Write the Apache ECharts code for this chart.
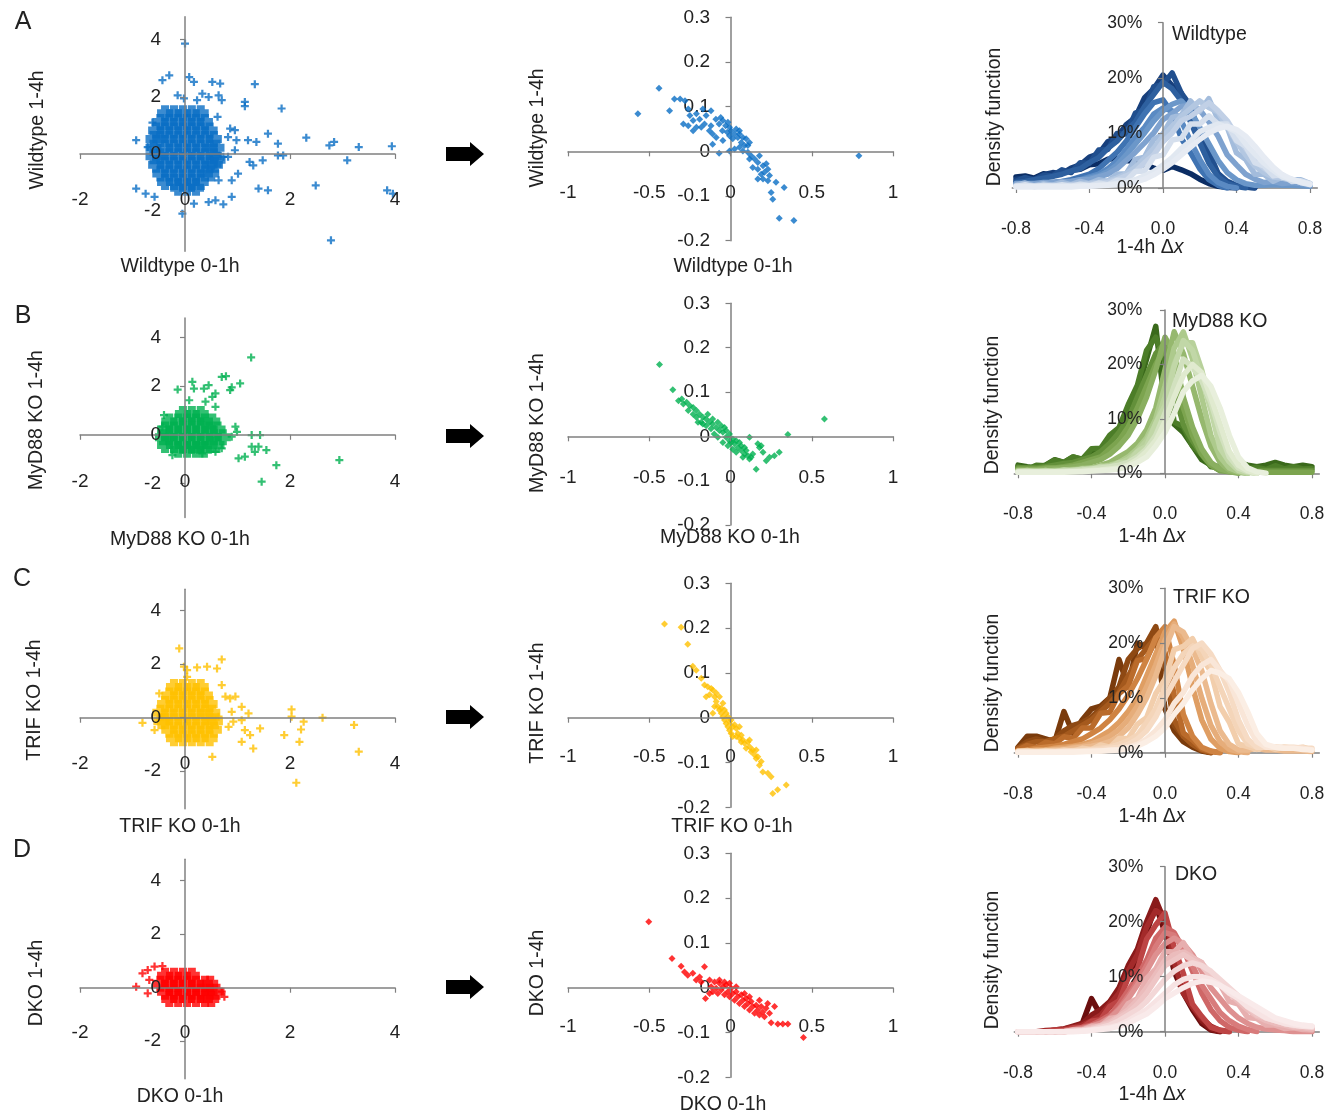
<!DOCTYPE html>
<html><head><meta charset="utf-8">
<script src="https://cdn.jsdelivr.net/npm/echarts@6/dist/echarts.min.js"></script>
<style>html,body{margin:0;padding:0;background:#fff}#c{width:1343px;height:1117px}</style>
</head><body><div id="c"></div>
<script>
const N = null;
// ---------- tick values ----------
const leftXTicks = [-2, 0, 2, 4];
const leftYTicks = [-2, 0, 2, 4];
const densXTicks = [-0.8, -0.4, 0, 0.4, 0.8];
const rowNames = ['Wildtype', 'MyD88 KO', 'TRIF KO', 'DKO'];
const panelLetters = ['A', 'B', 'C', 'D'];

// ---------- left panels: 0-1h vs 1-4h (core cloud + outliers) ----------
const wtCore = [
[-0.38,1.42],[-0.21,1.42],[-0.04,1.42],[0.13,1.42],[0.3,1.42],
[-0.47,1.12],[-0.3,1.12],[-0.13,1.12],[0.04,1.12],[0.21,1.12],[0.38,1.12],
[-0.55,0.82],[-0.38,0.82],[-0.21,0.82],[-0.04,0.82],[0.13,0.82],[0.3,0.82],[0.47,0.82],
[-0.6,0.52],[-0.47,0.52],[-0.3,0.52],[-0.13,0.52],[0.04,0.52],[0.21,0.52],[0.38,0.52],[0.55,0.52],
[-0.6,0.22],[-0.38,0.22],[-0.21,0.22],[-0.04,0.22],[0.13,0.22],[0.3,0.22],[0.47,0.22],[0.6,0.22],
[-0.6,-0.08],[-0.47,-0.08],[-0.3,-0.08],[-0.13,-0.08],[0.04,-0.08],[0.21,-0.08],[0.38,-0.08],[0.55,-0.08],[0.62,-0.2],
[-0.55,-0.38],[-0.38,-0.38],[-0.21,-0.38],[-0.04,-0.38],[0.13,-0.38],[0.3,-0.38],[0.47,-0.38],[0.57,-0.38],
[-0.47,-0.68],[-0.3,-0.68],[-0.13,-0.68],[0.04,-0.68],[0.21,-0.68],[0.38,-0.68],[0.5,-0.68],
[-0.38,-0.98],[-0.21,-0.98],[-0.04,-0.98],[0.13,-0.98],[0.3,-0.98],
[-0.13,-1.18],[0.04,-1.18],[0.21,-1.18]
];
const wtOut = [
[0,3.86],[-0.3,2.75],[-0.43,2.58],[0.08,2.69],[0.17,2.52],[0.52,2.52],[0.67,2.46],[1.33,2.44],
[0.33,2.11],[0.64,2.05],[0.7,1.88],[1.14,1.82],[1.14,1.67],[1.84,1.59],[-0.14,2.05],[-0.02,1.94],
[0.23,1.88],[0.45,1.99],[-0.93,0.48],[-0.71,0.24],[-0.75,-1.39],[-0.93,-1.21],[-0.58,-1.5],
[-0.05,-2.09],[0.17,-1.74],[0.45,-1.68],[0.58,-1.62],[0.73,-1.76],[0.89,-1.5],[0.86,0.89],
[0.95,0.83],[0.82,0.59],[0.98,0.48],[1.2,0.48],[1.36,0.42],[1.58,0.71],[1.77,0.36],[1.77,-0.05],
[1.87,-0.05],[1.23,-0.28],[1.3,-0.4],[1.48,-0.22],[1.4,-1.21],[1.58,-1.27],[2.31,0.57],[2.49,-1.1],
[2.75,0.3],[2.84,0.42],[3.09,-0.22],[3.31,0.24],[3.94,0.27],[3.85,-1.27],[3.96,-1.39],[2.78,-3.02],
[0.89,-0.92],[1.01,-0.69],[0.82,-0.1],[0.95,0.13],[0.73,-0.1],[0.64,-0.92],[-0.62,1.1],[0.62,1.3]
];
const myCore = [
[-0.04,0.85],[0.13,0.85],[0.3,0.85],
[-0.3,0.55],[-0.13,0.55],[0.04,0.55],[0.21,0.55],[0.38,0.55],[0.52,0.55],
[-0.38,0.22],[-0.21,0.22],[-0.04,0.22],[0.13,0.22],[0.3,0.22],[0.47,0.22],[0.62,0.22],
[-0.42,-0.1],[-0.3,-0.1],[-0.13,-0.1],[0.04,-0.1],[0.21,-0.1],[0.38,-0.1],[0.55,-0.1],[0.72,-0.1],
[-0.38,-0.42],[-0.21,-0.42],[-0.04,-0.42],[0.13,-0.42],[0.3,-0.42],[0.47,-0.42],[0.6,-0.42],
[-0.13,-0.62],[0.04,-0.62],[0.21,-0.62],[0.36,-0.62]
];
const myOut = [
[1.26,3.18],[0.7,2.38],[0.78,2.41],[1.05,2.11],[0.89,1.95],[0.86,1.84],[0.14,2.18],[0.17,1.9],
[0.36,1.9],[0.45,2.04],[0.52,1.56],[0.58,1.7],[-0.14,1.86],[0.08,1.42],[0.39,1.36],[0.58,1.15],
[-0.4,0.81],[-0.43,0.33],[0.96,0.33],[0.99,0.12],[0.89,-0.08],[1.27,-0.01],[1.43,-0.01],[1.27,-0.49],
[1.4,-0.49],[1.33,-0.7],[1.55,-0.63],[1.02,-0.97],[1.14,-0.9],[1.74,-1.25],[1.46,-1.93],[2.94,-1.04],
[0.7,-0.56],[0.58,-0.7],[-0.24,-0.84],[0.33,-0.77]
];
const trCore = [
[-0.21,1.15],[-0.04,1.15],[0.13,1.15],[0.3,1.15],
[-0.3,0.83],[-0.13,0.83],[0.04,0.83],[0.21,0.83],[0.38,0.83],
[-0.38,0.51],[-0.21,0.51],[-0.04,0.51],[0.13,0.51],[0.3,0.51],[0.47,0.51],
[-0.47,0.19],[-0.3,0.19],[-0.13,0.19],[0.04,0.19],[0.21,0.19],[0.38,0.19],[0.52,0.19],
[-0.45,-0.13],[-0.38,-0.13],[-0.21,-0.13],[-0.04,-0.13],[0.13,-0.13],[0.3,-0.13],[0.47,-0.13],[0.57,-0.13],
[-0.3,-0.45],[-0.13,-0.45],[0.04,-0.45],[0.21,-0.45],[0.38,-0.45],[0.55,-0.45],
[-0.21,-0.77],[-0.04,-0.77],[0.13,-0.77],[0.3,-0.77],[0.47,-0.77]
];
const trOut = [
[-0.11,2.59],[-0.02,1.91],[0.04,1.78],[0.23,1.88],[0.42,1.91],[0.61,1.84],[0.7,2.18],[0.04,1.53],
[-0.49,0.91],[0.7,1.22],[0.77,0.79],[0.86,0.72],[0.96,0.79],[1.08,0.41],[0.89,0.22],[1.21,0.16],
[1.08,-0.09],[0.92,-0.15],[1.14,-0.46],[1.24,-0.65],[1.08,-0.9],[1.3,-1.15],[1.43,-0.4],[0.52,-1.46],
[-0.81,-0.19],[-0.58,-0.46],[2.03,0.31],[2.03,0.04],[2.26,-0.15],[2.21,-0.44],[1.89,-0.65],[2.18,-0.9],
[2.62,0],[3.22,-0.27],[3.31,-1.27],[2.12,-2.43],[0.64,0.04],[0.83,-0.34]
];
const dkCore = [
[-0.38,0.45],[-0.21,0.45],[-0.04,0.45],[0.13,0.45],
[-0.47,0.15],[-0.3,0.15],[-0.13,0.15],[0.04,0.15],[0.21,0.15],[0.38,0.15],[0.48,0.15],
[-0.38,-0.15],[-0.21,-0.15],[-0.04,-0.15],[0.13,-0.15],[0.3,-0.15],[0.47,-0.15],[0.6,-0.15],
[-0.3,-0.42],[-0.13,-0.42],[0.04,-0.42],[0.21,-0.42],[0.38,-0.42],[0.5,-0.42]
];
const dkOut = [
[-0.93,0.04],[-0.81,0.54],[-0.71,0.66],[-0.71,-0.21],[-0.58,0.79],[-0.43,0.81],[0.7,-0.15],[0.75,-0.34],[-0.68,0.29]
];

// ---------- middle panels: selected genes ----------
const wtMid = [[-0.57,0.084],[-0.44,0.141],[-0.375,0.091],[-0.345,0.117],[-0.31,0.117],[-0.28,0.113],[-0.26,0.095],[-0.25,0.08],[-0.26,0.057],[-0.23,0.069],[-0.21,0.084],[-0.19,0.072],[-0.21,0.054],[-0.17,0.095],[-0.15,0.08],[-0.12,0.091],[-0.16,0.061],[-0.12,0.057],[-0.11,0.039],[-0.09,0.072],[-0.07,0.061],[-0.05,0.046],[-0.06,0.076],[-0.03,0.057],[-0.02,0.043],[-0.006,0.035],[0.004,0.046],[0.025,0.039],[0.014,0.028],[0.045,0.031],[0.066,0.02],[0.086,0.013],[0.107,0.013],[0.076,0.001],[0.107,-0.002],[0.127,-0.01],[0.148,-0.017],[0.168,-0.025],[0.137,-0.036],[0.168,-0.04],[0.2,-0.032],[0.22,-0.028],[0.189,-0.051],[0.23,-0.066],[0.2,-0.062],[0.28,-0.069],[0.33,-0.081],[0.25,-0.092],[0.26,-0.107],[0.3,-0.15],[0.39,-0.155],[0.79,-0.01],[-0.11,0.016],[-0.07,-0.004],[-0.006,0.001],[0.025,0.005],[0.055,0.009],[0.117,0.02],[0.096,0.028],[0.076,0.031],[-0.047,0.024],[-0.088,0.031],[-0.047,0.069],[-0.016,0.065],[-0.006,0.054],[0.035,0.05],[0.055,0.039],[0.055,0.046],[-0.29,0.061],[-0.23,0.046],[-0.18,0.054],[-0.13,0.046],[0.117,-0.017],[0.178,-0.01],[0.209,-0.047],[0.168,-0.062],[0.23,-0.04],[0.24,-0.054]];
const myMid = [[-0.437,0.162],[-0.355,0.105],[-0.3,0.084],[-0.27,0.077],[-0.25,0.069],[-0.23,0.065],[-0.21,0.058],[-0.19,0.05],[-0.17,0.043],[-0.15,0.039],[-0.13,0.032],[-0.11,0.028],[-0.088,0.02],[-0.068,0.013],[-0.047,0.009],[-0.027,-0.002],[-0.006,-0.01],[0.004,-0.014],[0.025,-0.017],[0.045,-0.025],[0.066,-0.032],[0.086,-0.04],[0.107,-0.044],[0.127,-0.047],[0.158,-0.074],[0.178,-0.025],[0.2,-0.036],[0.22,-0.055],[0.24,-0.047],[0.27,-0.044],[0.3,-0.036],[0.117,-0.002],[0.353,0.004],[0.578,0.039],[-0.21,0.043],[-0.18,0.032],[-0.15,0.024],[-0.12,0.017],[-0.1,0.005],[-0.078,-0.002],[-0.047,-0.014],[-0.016,-0.021],[0.014,-0.029],[0.035,-0.036],[0.076,-0.047],[0.117,-0.051],[0.086,-0.025],[0.055,-0.014],[0.096,-0.032],[0.137,-0.04],[0.168,-0.017],[0.189,-0.021],[-0.26,0.058],[-0.23,0.05],[-0.2,0.032],[-0.17,0.028],[-0.14,0.05],[-0.11,0.039],[-0.078,0.032],[-0.057,0.024],[-0.037,0.02],[-0.027,0.013],[-0.006,0.005],[0.014,-0.006],[0.035,-0.01],[0.066,-0.021],[-0.29,0.073],[-0.32,0.08]];
const trMid = [[-0.406,0.209],[-0.304,0.202],[-0.263,0.164],[-0.232,0.115],[-0.211,0.106],[-0.18,0.088],[-0.16,0.073],[-0.14,0.069],[-0.119,0.065],[-0.129,0.051],[-0.15,0.047],[-0.098,0.047],[-0.088,0.036],[-0.109,0.01],[-0.078,0.025],[-0.068,0.017],[-0.057,0.01],[-0.047,0.002],[-0.037,-0.005],[-0.027,-0.013],[-0.016,-0.02],[-0.006,-0.028],[0.004,-0.035],[0.014,-0.042],[0.025,-0.016],[0.035,-0.024],[0.045,-0.035],[0.055,-0.046],[0.066,-0.054],[0.086,-0.057],[0.096,-0.068],[0.117,-0.065],[0.127,-0.076],[0.148,-0.083],[0.168,-0.087],[0.178,-0.106],[0.199,-0.121],[0.23,-0.124],[0.25,-0.132],[0.26,-0.169],[0.29,-0.161],[0.343,-0.15],[-0.068,0.047],[-0.047,0.032],[-0.037,0.017],[-0.016,0.002],[-0.006,-0.009],[0.014,-0.02],[0.035,-0.042],[0.066,-0.039],[0.076,-0.05],[0.107,-0.054],[0.137,-0.072],[0.158,-0.091],[-0.088,0.055],[-0.109,0.062],[-0.098,0.025],[-0.057,0.021],[-0.027,0.01],[0.004,-0.005],[0.055,-0.02],[0.117,-0.05],[0.158,-0.072],[0.189,-0.098]];
const dkMid = [[-0.503,0.147],[-0.36,0.065],[-0.304,0.048],[-0.263,0.028],[-0.232,0.032],[-0.211,0.017],[-0.16,0.047],[-0.154,-0.024],[-0.18,0.013],[-0.129,0.017],[-0.119,0.002],[-0.098,0.013],[-0.088,-0.001],[-0.109,-0.009],[-0.068,0.01],[-0.057,-0.005],[-0.047,0.002],[-0.027,0.006],[-0.016,-0.009],[0.004,-0.001],[0.014,-0.013],[0.035,-0.009],[0.045,-0.02],[0.066,-0.016],[0.076,-0.028],[0.096,-0.024],[0.107,-0.035],[0.127,-0.031],[0.137,-0.042],[0.158,-0.039],[0.168,-0.05],[0.189,-0.042],[0.199,-0.054],[0.219,-0.046],[0.24,-0.057],[0.271,-0.042],[0.25,-0.078],[0.291,-0.081],[0.322,-0.081],[0.353,-0.081],[0.449,-0.111],[-0.078,-0.013],[-0.037,-0.016],[-0.006,-0.02],[0.025,-0.028],[0.055,-0.035],[0.086,-0.042],[0.117,-0.05],[0.148,-0.057],[0.178,-0.061],[0.209,-0.065],[-0.068,0.017],[-0.037,0.013],[-0.006,0.01],[0.035,0.002],[0.086,-0.013],[0.117,-0.02],[0.178,-0.028],[0.229,-0.035],[-0.129,-0.013],[-0.283,0.035],[-0.19,0.024]];

// ---------- right panels: density of 1-4h Δx (percent), dark -> light ----------
const densX = [-0.8,-0.75,-0.7,-0.65,-0.6,-0.55,-0.5,-0.45,-0.4,-0.35,-0.3,-0.25,-0.2,-0.15,-0.1,-0.05,0,0.05,0.1,0.15,0.2,0.25,0.3,0.35,0.4,0.45,0.5,0.55,0.6,0.65,0.7,0.75,0.8];
const wtDens = [
[2,2.2,1.8,2.6,2.2,2.8,3.2,3.4,4.2,4.4,5.2,5.4,5,4.8,4.2,3.6,3.2,3.9,3.3,2.6,1.6,0.8,0.3,0.1,0,N,N,N,N,N,N,N,N],
[1.6,1.8,1.6,2.4,2.8,2.6,3.6,4.2,5.6,6.2,8.4,9.2,11.5,12.8,16.4,18,20.5,18.6,17.2,12.5,9.4,4.8,2.6,1,0.4,0.2,0,N,N,N,N,N,N],
[1.2,1.9,1.4,2.3,2.2,3.3,2.8,4.6,4.5,6.9,7,9.9,9.8,13.6,14.2,18.4,18.8,20.9,17.2,14.9,9.4,6.6,2.6,1.2,0.5,0.2,0,N,N,N,N,N,N],
[1,1.2,1.5,1.8,2.1,2.5,3.1,3.5,4.6,5.5,7.2,8.5,10.4,12,14.8,17,19.2,18,15.8,12,8.2,4.5,2,0.8,0.3,0,N,N,N,N,N,N,N],
[0.5,0.5,0.6,0.8,1,1.2,1.5,2,2.5,3.5,5,6.5,8.5,11,13.5,15.5,16,13.6,9,6.4,3.5,1.5,0.5,0,N,N,N,N,N,N,N,N,N],
[0.5,0.5,0.5,0.6,0.8,1,1.2,1.5,2,2.5,3.5,5,7,9.2,11,13.4,14.5,14,12.2,8.5,5.2,2.5,1,0.3,0,N,N,N,N,N,N,N,N],
[0.6,0.6,0.7,0.8,0.9,1,1.2,1.4,1.8,2.2,3,4.2,6,8,10,12.2,14,15.2,15.8,14,11,8,5,2.8,1.5,0.8,0.5,0.5,0.6,0.5,0.5,0.4,0.3],
[0.8,0.8,0.8,1,1,1.2,1.2,1.5,1.5,2,2.5,3.5,5,6.5,8.2,10,12.4,13.5,14.8,15,14.2,12,9.4,6,4.2,2.5,1.6,1,1.2,0.8,1,0.8,0.5],
[0.5,0.9,0.4,0.8,0.5,1,0.6,1.2,0.8,1.5,1.2,2.5,2.6,5.2,5.6,8.8,9.8,12.8,13.2,15.8,13.9,16.2,12.4,11,6.4,5.2,2.5,2.5,1.2,2,1.5,1.5,0.8],
[0.4,0.4,0.4,0.4,0.5,0.5,0.6,0.7,0.8,1,1.3,1.8,2.6,3.8,5.4,7.2,9.4,11.2,13,14.4,15.8,14.6,13.8,11,8.4,6,4,2.8,2,1.8,1.4,1.1,0.7],
[0.3,0.3,0.3,0.3,0.4,0.4,0.5,0.5,0.6,0.8,1,1.5,2.2,3,4.6,6,8.4,10,12.2,13,14.2,15.5,14,12.2,9.5,7.2,5,3.6,2.5,2,1.5,1,0.8],
[0.3,0.6,0.2,0.5,0.3,0.6,0.3,0.7,0.4,0.9,0.6,1.4,1.3,3,3.1,5.6,6,8.7,9,11.6,11.6,13.1,11.6,11.6,8.6,7.6,4.6,4,2.2,2.4,1.2,1.3,0.8],
[0.3,0.3,0.3,0.3,0.3,0.3,0.3,0.3,0.4,0.5,0.6,0.8,1,1.5,2.2,3,4.2,5.5,7.2,8.5,10.2,11,11.6,11,10.2,8,6.2,4.5,3.2,2,1.6,1,0.6],
[0.2,0.2,0.2,0.2,0.2,0.2,0.2,0.3,0.3,0.4,0.5,0.6,0.8,1.1,1.6,2.4,3.4,4.6,6,7.4,8.8,10,10.8,11.2,10.6,9.4,7.6,5.6,3.8,2.4,1.6,1.1,0.7]
];
const myDens = [
[1.5,1.2,1,1.5,2.5,2,3,2.5,3.5,4.5,6,8,11,15,21,27,12,9,7.5,5,2.5,1.5,1.2,1.5,2,1.5,1.2,1.5,2,1.5,1.2,1.5,1.2],
[1.2,0.7,1.5,1.4,2.4,2,3,2.6,4.5,4.6,7,8.4,12.6,16.2,22.6,25,20.6,9.4,8.6,5,3.4,1.2,1.1,0.7,1.5,0.8,1.1,0.7,1.4,0.8,1.2,0.8,0.9],
[1,1,1,1.2,1.5,1.8,2,2.5,3,4,5.5,7.5,10,14,18,22,24,15,9,6,3.5,1.5,0.5,0.5,0.5,0.5,0.5,0.5,0.5,0.5,0.5,0.5,0.5],
[0.8,0.8,0.8,1,1,1.2,1.5,2,2.5,3,4.5,6,8.5,12,16,20,23,18,12,7,3.5,1.5,0.5,0.3,0.2,0.2,0.2,0.2,0.2,0.2,0.2,0.2,0.2],
[0.6,0.6,0.6,0.8,0.9,1,1.2,1.5,2,2.5,3.5,5,7,10,14,19,25,22,14,8.5,4.5,2,0.8,0.3,0,N,N,N,N,N,N,N,N],
[0.5,0.5,0.5,0.5,0.5,0.6,0.8,1,1,1.5,2,3,4,5.5,8,12,19,26,22,16,10,5,2,0.6,0.2,0,N,N,N,N,N,N,N],
[0.4,0.4,0.4,0.4,0.5,0.5,0.6,0.8,1,1.2,1.5,2,3,4.5,6.5,10,16,23,26,21,14,7,3,1,0.3,0,N,N,N,N,N,N,N],
[0.4,0.4,0.4,0.4,0.4,0.5,0.6,0.7,0.9,1.1,1.4,1.8,2.6,4,6,9,14,20,24,24,19,12,6,2.2,0.6,0,N,N,N,N,N,N,N],
[0.3,0.5,0.2,0.5,0.3,0.6,0.4,0.8,0.6,1.3,1,2,1.9,4,5,9.2,12.4,19.6,24.4,22.6,17.4,11.6,4.6,2.1,0.5,0.2,0,N,N,N,N,N,N],
[0.3,0.3,0.3,0.3,0.3,0.4,0.5,0.6,0.8,1,1.2,1.5,2,3,4.5,7,11,16,21,19.5,17,13,7.5,3,1,0.3,0,N,N,N,N,N,N],
[0.2,0.2,0.2,0.2,0.3,0.3,0.3,0.4,0.5,0.6,0.8,1,1.5,2.5,4,6,9.5,14,18,20,18.5,14,9,4,1.5,0.5,0,N,N,N,N,N,N],
[0.2,0.2,0.2,0.2,0.2,0.2,0.3,0.3,0.4,0.5,0.6,0.8,1.2,2,3,5,7.5,11,15,17,18,16,12,7,3,1,0.3,0,N,N,N,N,N]
];
const trDens = [
[1,3,3,2.5,2,7.5,3.5,6,8,8.5,10,17,12,20,19,22,8,4,2,1,0.3,0,N,N,N,N,N,N,N,N,N,N,N],
[0.8,2,2.5,2,2.5,4,5,5.5,6.5,8,10,12,17,19,20,23,16,5,3,1.5,0.5,0,N,N,N,N,N,N,N,N,N,N,N],
[0.8,1.5,2,2,2.5,3,4,5,6,7.5,9,11,14,17,19,21,18,6,3,1.5,0.5,0,N,N,N,N,N,N,N,N,N,N,N],
[0.5,1.3,0.9,1.9,1.6,2.9,2.6,4.5,4.5,7.2,7.4,10.8,12.2,16.8,17.2,20.6,18.4,10.6,3.6,2.3,0.7,0.2,0,N,N,N,N,N,N,N,N,N,N],
[0.3,0.5,0.8,1,1.2,1.5,2,2.5,3.5,4.5,6,8,10.5,13.5,17,21,23,16,7,3,1,0.3,0,N,N,N,N,N,N,N,N,N,N],
[0.3,0.3,0.5,0.5,0.8,1,1.2,1.5,2,3,4,5.5,7.5,10,14,18,22,24,19,12,6,2.5,0.8,0.2,0,N,N,N,N,N,N,N,N],
[0.3,0.3,0.4,0.4,0.6,0.7,1,1.2,1.6,2.2,3,4.2,6,8.5,12,16,20.5,23.5,21,16,10,5,2,0.6,0.2,0,N,N,N,N,N,N,N],
[0.2,0.2,0.3,0.3,0.5,0.5,0.8,1,1.2,1.5,2,3,4.5,7,10,14,19,23,22,19,15,9,4,1.5,0.5,0.5,0.8,0.5,0.5,0.3,0.3,0.3,0.2],
[0.2,0.4,0.1,0.4,0.2,0.5,0.3,0.8,0.6,1.4,1,2.6,2.6,5.2,6.4,10.8,13.4,18.8,19.4,20.8,17.4,14.8,8.4,5.6,1.6,1.1,0.6,1.2,0.6,1,0.8,1,0.5],
[0.2,0.2,0.2,0.2,0.2,0.3,0.4,0.4,0.6,0.8,1,1.5,2.2,3.2,5.5,8,12,15.5,18,19.5,19,16,12,8,4,1.6,1,1,1,0.8,0.8,0.8,0.6],
[0.1,0.1,0.1,0.2,0.2,0.2,0.3,0.3,0.5,0.6,0.8,1,1.5,2.5,4,6.5,10,13,16,19,20,18,15,11,6,2.5,1,1,1,1,1,0.8,0.8],
[0.1,0.1,0.1,0.1,0.1,0.2,0.2,0.2,0.3,0.3,0.5,0.6,1,1.5,2.5,4,6,9,11,14,16,17,15,13,9,5,2,1,1,0.8,0.8,0.8,0.5],
[0.1,0.1,0.1,0.1,0.1,0.1,0.1,0.2,0.2,0.3,0.4,0.5,0.8,1.2,2,3,4.5,7,9,11.5,13.5,15,14.5,13.5,11,7.5,3.5,1.5,1,0.8,0.8,0.6,0.5]
];
const dkDens = [
[N,N,N,N,0,0.3,0.8,1.5,6,3,4.5,7,10,13,18,23,18,11,7,4,1.5,0.3,0,N,N,N,N,N,N,N,N,N,N],
[N,N,N,0,0.3,0.5,1,1.5,3,4,5.5,8,12,15,20,24,20,12,7.5,4.5,2,0.5,0,N,N,N,N,N,N,N,N,N,N],
[N,N,0,0.2,0.3,0.5,0.8,1.2,2,3,5,7,11,14,19,22,21,13,7,4.5,2.5,1,0.2,0,N,N,N,N,N,N,N,N,N],
[N,N,N,0,0.3,0.2,0.7,0.8,1.9,2.2,4.6,5.6,9.8,11.4,16.8,19.4,21.6,15.4,10.6,5,2.8,0.8,0.3,0,N,N,N,N,N,N,N,N,N],
[N,N,N,N,0,0.2,0.4,0.8,1.2,2,3,5,7.5,10,13,17,19,18,15,11,7,4,2,0.8,0.3,0,N,N,N,N,N,N,N],
[N,N,N,N,N,0,0.3,0.6,1,1.6,2.6,4.2,6.5,9,12,15.5,18,17.5,15,12,8.5,6,3.5,2,1,0.4,0,N,N,N,N,N,N],
[0,0,0,0,0,0,0.3,0.5,1,1.5,2.5,4,6,8.5,11,14,16,17,16,14,11,8,6,4,2.5,1.5,0.8,0.5,0.3,0.2,0,0,0],
[0,0,0,0,0,0,0.3,0.3,1,1,2.4,2.7,5.1,6,9.7,11.4,14.6,14.5,16.2,13.4,12.6,9.4,8.6,5.5,5,2.6,2.4,1.2,1.2,0.6,0.7,0.4,0.3],
[0,0,0,0,0,0,0.2,0.3,0.7,1.1,1.8,2.8,4,5.8,8,10.5,13,14,14.5,13.5,12.5,10.5,9,7,5.5,4,2.8,2,1.5,1.2,0.8,0.7,0.5],
[0,0,0,0,0,0,0.2,0.3,0.6,1,1.5,2.5,3.5,5,7,9.5,12,13,14,13,12,10,9,7.5,6,4.5,3,2.5,2,1.5,1,1,0.8],
[0,0,0,0,0,0,0.1,0.2,0.4,0.8,1.2,2,3,4,5.5,7.5,9.5,11,12,12.5,12,11,9.5,8,6.5,5,3.5,2.5,2,1.5,1.2,1,0.8],
[0,0,0,0,0,0,0,0.1,0.3,0.5,0.8,1.2,2,3,4,5.5,7,8.5,9.5,10,10,9.5,8.5,7,6,4.5,3.5,2.5,2,1.5,1.2,1,1],
[0,0,0,0,0,0,0,0.1,0.2,0.4,0.6,1,1.5,2.4,3.2,4.5,6,7,8,8.8,9.2,9,8.4,7.5,6.5,5.5,4.5,3.5,2.5,2,1.5,1.2,1]
];

// ---------- styles ----------
const wtPal = ['#0b2d64','#173f7c','#214f8e','#2e609f','#3f73b2','#5a8ac3','#6b97c9','#7ea2cf','#a3bcdc','#b3c7e1','#c1d0e6','#d5dfed','#e1e8f1','#e6ebf3'];
const myPal = ['#3a691b','#4c7d28','#63903a','#7ca44f','#8aaf60','#96b86e','#adca8c','#b8d19b','#c1d7a7','#d2e1bf','#e0eacf','#e8efdc'];
const trPal = ['#7a3b0c','#8e4913','#a4591d','#ba6b2b','#cf8342','#df9e63','#e6ad7a','#ebba8e','#f2ceac','#f4d5b9','#f6dbc4','#f9e6d8','#fbeee4'];
const dkPal = ['#6b0e0e','#891a1a','#a32a2a','#bd4444','#cf6767','#d87b7b','#de9090','#e7afaf','#ebbcbc','#eec5c5','#f3d7d7','#f7e3e3','#f9eaea'];

const FONT = "'Liberation Sans', Arial, Helvetica, sans-serif";
const TXT = '#222';
const AXC = '#808080';
const PLUS_FAT = 'path://M2.5,0H7.5V2.5H10V7.5H7.5V10H2.5V7.5H0V2.5H2.5Z';
const PLUS = 'path://M3.6,0H6.4V3.6H10V6.4H6.4V10H3.6V6.4H0V3.6H3.6Z';

const rows = [
  {color:'#0a6ec4', core:wtCore, out:wtOut, mid:wtMid, dens:wtDens, pal:wtPal},
  {color:'#00b050', core:myCore, out:myOut, mid:myMid, dens:myDens, pal:myPal},
  {color:'#ffc000', core:trCore, out:trOut, mid:trMid, dens:trDens, pal:trPal},
  {color:'#ff0000', core:dkCore, out:dkOut, mid:dkMid, dens:dkDens, pal:dkPal}
];
// grid boxes and label offsets (labels are placed relative to the grid edges)
const layout = [
  {L:[16.7,234.5], M:[17.3,223.4], R:[1012.3,22.7,165.3], lxm:-61, mxm:-57, rym:-130, letter:[23,22], lx:[180,267], ly:[38,130], mx:[733,267], my:[538,128], ay:154, rt:[1172,35], rx:[1150,248], ry:[995,117]},
  {L:[318.1,199.3], M:[303.3,221.7], R:[1014.3,310,163.3], lxm:-45, mxm:-57, rym:-128, letter:[23,316], lx:[180,540], ly:[37,420], mx:[730,538], my:[538,423], ay:436, rt:[1172,322], rx:[1152,537], ry:[993,405]},
  {L:[589.3,219.4], M:[583.3,224], R:[1014.3,588.3,164.4], lxm:-54, mxm:-60, rym:-129, letter:[22,579], lx:[180,827], ly:[35,700], mx:[732,827], my:[538,703], ay:717, rt:[1173,598], rx:[1152,817], ry:[993,683]},
  {L:[859.3,219.4], M:[853.3,224], R:[1014.3,866.7,165], lxm:-55, mxm:-60, rym:-129, letter:[22,850], lx:[180,1097], ly:[37,983], mx:[723,1105], my:[538,973], ay:987, rt:[1175,875], rx:[1152,1095], ry:[993,960]}
];

const grid = [], xAxis = [], yAxis = [], series = [], graphic = [];
function lab(extra){ return Object.assign({color:TXT, fontFamily:FONT, fontSize:19}, extra); }
function axLine(){ return {onZero:true, lineStyle:{color:AXC, width:1.5}}; }
function tick(extra){ return Object.assign({show:true, length:5, lineStyle:{color:AXC, width:1.2}}, extra||{}); }
const fmt1 = v => String(Math.round(v*10)/10);

rows.forEach((r, i) => {
  const lo = layout[i];
  const g0 = grid.length;
  grid.push({left:80, top:lo.L[0], width:315, height:lo.L[1], outerBoundsMode:'none', containLabel:false});
  grid.push({left:568, top:lo.M[0], width:325, height:lo.M[1], outerBoundsMode:'none', containLabel:false});
  grid.push({left:lo.R[0], top:lo.R[1], width:305, height:lo.R[2], outerBoundsMode:'none', containLabel:false});
  // left
  xAxis.push({type:'value', gridIndex:g0, min:-2, max:4, z:3, axisLine:axLine(), splitLine:{show:false},
    axisTick:tick({customValues:leftXTicks}), axisLabel:lab({customValues:leftXTicks, margin:lo.lxm, hideOverlap:false})});
  yAxis.push({type:'value', gridIndex:g0, min:-3.4, max:4.8, z:3, axisLine:axLine(), splitLine:{show:false},
    axisTick:tick({customValues:leftYTicks}), axisLabel:lab({customValues:leftYTicks, margin:-81, hideOverlap:false})});
  // middle
  xAxis.push({type:'value', gridIndex:g0+1, min:-1, max:1, interval:0.5, z:3, axisLine:axLine(), splitLine:{show:false},
    axisTick:tick(), axisLabel:lab({margin:lo.mxm, formatter:fmt1})});
  yAxis.push({type:'value', gridIndex:g0+1, min:-0.2, max:0.3, interval:0.1, axisLine:axLine(), splitLine:{show:false},
    axisTick:tick(), axisLabel:lab({margin:-142, formatter:fmt1})});
  // right
  xAxis.push({type:'value', gridIndex:g0+2, min:-0.82, max:0.84, axisLine:axLine(), splitLine:{show:false},
    axisTick:tick({customValues:densXTicks}), axisLabel:lab({customValues:densXTicks, margin:32, fontSize:17.5, formatter:v=>v.toFixed(1)})});
  yAxis.push({type:'value', gridIndex:g0+2, min:0, max:0.3, interval:0.1, z:5, axisLine:axLine(), splitLine:{show:false},
    axisTick:tick(), axisLabel:lab({margin:lo.rym, fontSize:17.5, formatter:v=>Math.round(v*100)+'%'})});

  series.push({type:'scatter', xAxisIndex:g0, yAxisIndex:g0, data:r.core, symbol:PLUS_FAT, symbolSize:16, itemStyle:{color:r.color}, silent:true});
  series.push({type:'scatter', xAxisIndex:g0, yAxisIndex:g0, data:r.out, symbol:PLUS, symbolSize:8, itemStyle:{color:r.color}, silent:true});
  series.push({type:'scatter', xAxisIndex:g0+1, yAxisIndex:g0+1, data:r.mid, symbol:'diamond', symbolSize:7, itemStyle:{color:r.color}, silent:true});
  r.dens.forEach((d, k) => {
    series.push({type:'line', xAxisIndex:g0+2, yAxisIndex:g0+2, showSymbol:false, symbol:'none', silent:true,
      data: densX.map((x, j) => [x, d[j] === null ? null : d[j]/100]),
      lineStyle:{color:r.pal[k], width:5.5, join:'round', cap:'round'}});
  });

  const nm = rowNames[i];
  const t = (x, y, text, rot, extra) => graphic.push(Object.assign({type:'text', x, y, rotation:rot||0, silent:true,
    style:Object.assign({text, fill:TXT, fontFamily:FONT, fontSize:19.5, align:'center', verticalAlign:'middle'}, extra||{})}));
  t(lo.letter[0], lo.letter[1], panelLetters[i], 0, {fontSize:25});
  t(lo.lx[0], lo.lx[1], nm + ' 0-1h');
  t(lo.ly[0], lo.ly[1], nm + ' 1-4h', Math.PI/2);
  t(lo.mx[0], lo.mx[1], nm + ' 0-1h');
  t(lo.my[0], lo.my[1], nm + ' 1-4h', Math.PI/2);
  t(lo.rt[0], lo.rt[1], nm, 0, {align:'left'});
  t(lo.rx[0], lo.rx[1], '1-4h \u0394{i|x}', 0, {rich:{i:{fontStyle:'italic', fontSize:19.5, fontFamily:FONT, fill:TXT}}});
  t(lo.ry[0], lo.ry[1], 'Density function', Math.PI/2);
  const cy = lo.ay;
  graphic.push({type:'polygon', silent:true, shape:{points:[[446,cy-7],[470,cy-7],[470,cy-12],[484,cy],[470,cy+12],[470,cy+7],[446,cy+7]]}, style:{fill:'#000'}});
});

const chart = echarts.init(document.getElementById('c'), null, {renderer:'canvas'});
chart.setOption({animation:false, backgroundColor:'#fff', grid, xAxis, yAxis, series, graphic});
</script>
</body></html>
